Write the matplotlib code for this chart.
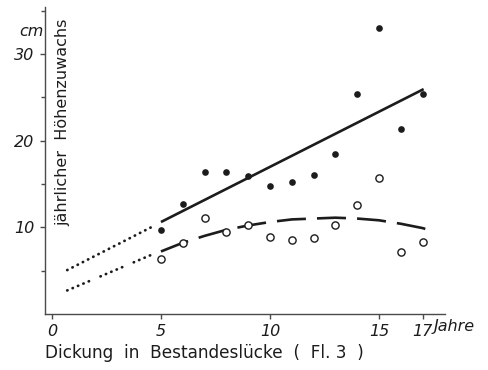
"""Jährlicher Höhenzuwachs in einer Bestandeslücke (Fl. 3) über dem Dickungsalter."""

import numpy as np
import matplotlib

matplotlib.use("Agg")
import matplotlib.pyplot as plt

# ── Daten ─────────────────────────────────────────────────────────────────────

YEARS = [5, 6, 7, 8, 9, 10, 11, 12, 13, 14, 15, 16, 17]

# jährlicher Höhenzuwachs [cm]
GROWTH_FILLED = [9.7, 12.7, 16.4, 16.4, 15.9, 14.8, 15.2, 16.0, 18.5, 25.4, 33.0, 21.4, 25.4]
GROWTH_OPEN = [6.3, 8.2, 11.1, 9.5, 10.2, 8.9, 8.5, 8.8, 10.3, 12.6, 15.7, 7.1, 8.3]

# Ausgleichslinien
TREND_FILLED_X = [5.0, 17.05]
TREND_FILLED_Y = [10.6, 25.95]
TREND_OPEN_X = [5, 6, 7, 8, 9, 10, 11, 12, 13, 14, 15, 16, 17, 17.4]
TREND_OPEN_Y = [7.2, 8.2, 9.0, 9.7, 10.2, 10.6, 10.9, 11.0, 11.1, 11.0, 10.8, 10.4, 9.9, 9.6]

# rückwärts verlängert (punktiert)
EXTRAP_FILLED_X = [0.7, 4.75]
EXTRAP_FILLED_Y = [5.05, 10.25]
EXTRAP_OPEN_X = [0.7, 4.6]
EXTRAP_OPEN_Y = [2.7, 6.85]

X_TICKS = [0, 5, 10, 15, 17]
Y_TICKS = [10, 20, 30]
Y_MINOR = [5, 15, 25, 35]

INK = "#1c1c1c"
AXIS = "#4a4a4a"

W, H = 489, 370


def px(x, y):
    """Figure fraction from pixel position (origin top left)."""
    return x / W, 1 - y / H


fig = plt.figure(figsize=(W / 100, H / 100), dpi=100)
ax = fig.add_axes([45 / W, 1 - 313.8 / H, 400 / W, (313.8 - 7.3) / H])

ax.set_xlim(-0.32, 18.03)
ax.set_ylim(0, 35.4)

# Trendlinien
ax.plot(TREND_FILLED_X, TREND_FILLED_Y, color=INK, lw=1.9, solid_capstyle="butt", zorder=2)
ax.plot(
    TREND_OPEN_X, TREND_OPEN_Y, color=INK, lw=1.9,
    linestyle=(0, (11.0, 4.2)), dash_capstyle="butt", zorder=2,
)
ax.plot(
    EXTRAP_FILLED_X, EXTRAP_FILLED_Y, color=INK, lw=2.0,
    linestyle=(0, (0.1, 2.0)), dash_capstyle="round", zorder=2,
)
ax.plot(
    EXTRAP_OPEN_X, EXTRAP_OPEN_Y, color=INK, lw=2.0,
    linestyle=(0, (0.1, 2.0, 0.1, 2.0, 0.1, 2.0, 0.1, 2.0, 0.1, 4.5)),
    dash_capstyle="round", zorder=2,
)

# Messwerte
ax.plot(YEARS, GROWTH_FILLED, "o", color=INK, ms=4.8, mew=0, zorder=3)
ax.plot(YEARS, GROWTH_OPEN, "o", mfc="white", mec=INK, ms=5.2, mew=1.0, zorder=3)

# Achsen
for side in ("top", "right"):
    ax.spines[side].set_visible(False)
for side in ("left", "bottom"):
    ax.spines[side].set_color(AXIS)
    ax.spines[side].set_linewidth(1.0)

ax.set_xticks(X_TICKS)
ax.set_xticklabels([str(t) for t in X_TICKS])
ax.set_yticks(Y_TICKS)
ax.set_yticklabels([str(t) for t in Y_TICKS])
ax.set_yticks(Y_MINOR, minor=True)
ax.tick_params(axis="both", which="major", direction="out", length=3.5, width=1.0,
               color=AXIS, labelsize=11.5, labelcolor=INK, pad=4)
ax.tick_params(axis="y", which="minor", direction="out", length=3.0, width=1.0, color=AXIS)
for lab in ax.get_xticklabels() + ax.get_yticklabels():
    lab.set_fontstyle("italic")
    lab.set_family("DejaVu Sans")

# Beschriftung
fig.text(*px(31, 32), "cm", ha="center", va="center", fontsize=11.5,
         style="italic", color=INK)
fig.text(*px(63, 122), "jährlicher  Höhenzuwachs", rotation=90, ha="center",
         va="center", fontsize=11.5, color=INK)
fig.text(*px(434, 327), "Jahre", ha="left", va="center", fontsize=11.5,
         style="italic", color=INK)
fig.text(*px(45, 353), "Dickung  in  Bestandeslücke  (  Fl. 3  )", ha="left",
         va="center", fontsize=12.2, color=INK)

fig.savefig("out.png", dpi=100, facecolor="white")
